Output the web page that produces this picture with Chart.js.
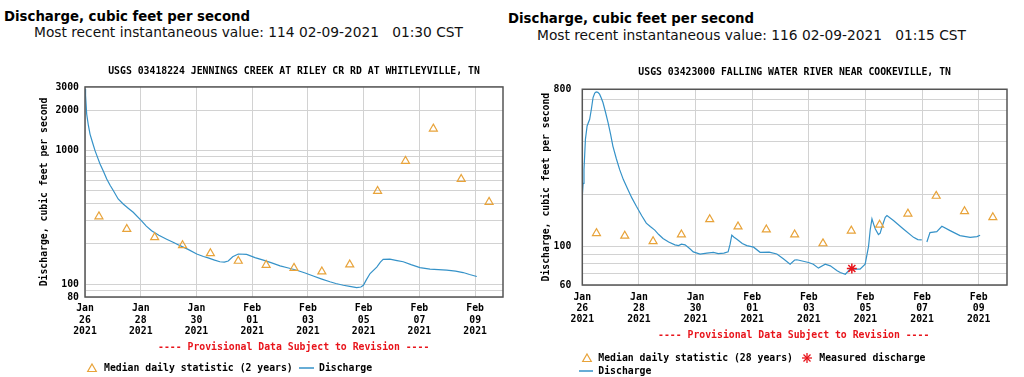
<!DOCTYPE html>
<html><head><meta charset="utf-8">
<script src="https://cdn.jsdelivr.net/npm/chart.js@4.4.1/dist/chart.umd.min.js"></script>
<style>
html,body{margin:0;padding:0;background:#fff;width:1024px;height:377px;overflow:hidden;position:relative}
.t{position:absolute;white-space:pre;transform-origin:0 50%;color:#000}
.hb{font:bold 13.5px "DejaVu Sans";line-height:16px}
.hr{font:14px "DejaVu Sans";line-height:16px;color:#111}
.m{font:bold 9.8px "DejaVu Sans Mono";line-height:12px}
.prov{color:#e8141b}
canvas{position:absolute}
svg{position:absolute;overflow:visible}
</style></head><body>
<div class="t hb" data-w="246" style="left:4px;top:8px">Discharge, cubic feet per second</div>
<div class="t hr" data-w="429" style="left:34px;top:24px">Most recent instantaneous value: 114 02-09-2021   01:30 CST</div>
<div class="t hb" data-w="246" style="left:508px;top:10px">Discharge, cubic feet per second</div>
<div class="t hr" data-w="429" style="left:537px;top:26.7px">Most recent instantaneous value: 116 02-09-2021   01:15 CST</div>

<canvas id="c1" width="512" height="290" style="left:0;top:57px"></canvas>
<canvas id="c2" width="512" height="290" style="left:512px;top:59px"></canvas>

<div class="t m prov" style="left:158px;top:340.5px">---- Provisional Data Subject to Revision ----</div>
<div class="t m prov" style="left:658px;top:328.5px">---- Provisional Data Subject to Revision ----</div>

<svg width="10" height="10" style="left:87px;top:363.2px"><polygon points="5,1 9.3,8.5 0.7,8.5" fill="none" stroke="#e8a33a" stroke-width="1.2"/></svg>
<div class="t m" style="left:104px;top:362.2px">Median daily statistic (2 years)</div>
<svg width="16" height="4" style="left:299px;top:366.2px"><line x1="0" y1="2" x2="15" y2="2" stroke="#3592c8" stroke-width="1.5"/></svg>
<div class="t m" style="left:319px;top:362.2px">Discharge</div>

<svg width="10" height="10" style="left:581.7px;top:352.8px"><polygon points="5,1 9.3,8.5 0.7,8.5" fill="none" stroke="#e8a33a" stroke-width="1.2"/></svg>
<div class="t m" style="left:598.3px;top:351.8px">Median daily statistic (28 years)</div>
<svg width="12" height="12" style="left:800.7px;top:351.8px"><g stroke="#e8141b" stroke-width="1.3"><line x1="6" y1="1" x2="6" y2="11"/><line x1="1" y1="6" x2="11" y2="6"/><line x1="2.5" y1="2.5" x2="9.5" y2="9.5"/><line x1="9.5" y1="2.5" x2="2.5" y2="9.5"/></g></svg>
<div class="t m" style="left:819.3px;top:351.8px">Measured discharge</div>
<svg width="16" height="4" style="left:579px;top:368.5px"><line x1="0" y1="2" x2="14" y2="2" stroke="#3592c8" stroke-width="1.5"/></svg>
<div class="t m" style="left:598.3px;top:364.5px">Discharge</div>

<script>
// ---- data (days since Jan 26 2021 00:00) ----
const xTickValues = [0, 2, 4, 6, 8, 10, 12, 14];
const xTickLabels = [
  ["Jan", "26", "2021"], ["Jan", "28", "2021"], ["Jan", "30", "2021"], ["Feb", "01", "2021"],
  ["Feb", "03", "2021"], ["Feb", "05", "2021"], ["Feb", "07", "2021"], ["Feb", "09", "2021"]
];
const leftYTickLabels = [80, 100, 1000, 2000, 3000];
const leftGridValues = [80, 90, 100, 200, 300, 400, 500, 600, 700, 800, 900, 1000, 2000, 3000];
const rightYTickLabels = [60, 100, 800];
const rightGridValues = [60, 70, 80, 90, 100, 200, 300, 400, 500, 600, 700, 800];

const medianDays = [0.5, 1.5, 2.5, 3.5, 4.5, 5.5, 6.5, 7.5, 8.5, 9.5, 10.5, 11.5, 12.5, 13.5, 14.5];
const leftMedian = [321, 258, 224, 195, 170, 149, 139, 132, 124, 140, 498, 836, 1459, 612, 412];
const rightMedian = [119, 115, 107, 117, 143, 130, 125, 117, 104, 123, 133, 154, 195, 159, 147];

const leftTimes = [0, 0.02, 0.06, 0.12, 0.18, 0.27, 0.36, 0.45, 0.54, 0.66, 0.78, 0.9, 1.02, 1.19, 1.37, 1.55, 1.73, 2.03, 2.2, 2.39, 2.65, 2.93, 3.2, 3.41, 3.7, 4.01, 4.25, 4.42, 4.65, 4.84, 5.0, 5.14, 5.3, 5.5, 5.8, 6.1, 6.4, 6.7, 7.0, 7.3, 7.6, 7.9, 8.19, 8.5, 8.79, 9.0, 9.27, 9.5, 9.75, 9.9, 9.99, 10.1, 10.23, 10.47, 10.6, 10.7, 10.94, 11.2, 11.42, 11.7, 12.02, 12.38, 12.98, 13.3, 13.57, 13.8, 14.06];
const leftFlow = [2900, 2600, 1880, 1550, 1330, 1150, 1000, 890, 794, 700, 612, 550, 500, 434, 398, 370, 345, 298, 272, 251, 232, 217, 204, 194, 182, 168, 161, 157, 151, 147, 146, 149, 160, 168, 167, 158, 151, 144, 137, 132, 127, 121, 115, 109, 104, 101, 98, 96, 94, 95, 98, 108, 120, 134, 146, 153, 154, 150, 147, 140, 133, 129.5, 127, 125, 122, 118, 114];

const rightTimes = [0, 0.03, 0.06, 0.11, 0.17, 0.26, 0.32, 0.38, 0.44, 0.49, 0.55, 0.61, 0.67, 0.73, 0.82, 0.91, 1.0, 1.08, 1.2, 1.32, 1.45, 1.61, 1.75, 1.91, 2.1, 2.26, 2.4, 2.56, 2.7, 2.85, 3.05, 3.27, 3.4, 3.5, 3.63, 3.8, 3.92, 4.16, 4.4, 4.63, 4.8, 5.0, 5.15, 5.22, 5.28, 5.36, 5.46, 5.65, 5.81, 6.05, 6.28, 6.6, 6.87, 7.1, 7.34, 7.5, 7.58, 7.99, 8.16, 8.34, 8.58, 8.76, 9.0, 9.11, 9.29, 9.46, 9.81, 9.99, 10.11, 10.17, 10.23, 10.29, 10.35, 10.46, 10.52, 10.58, 10.7, 10.76, 10.99, 11.34, 11.7, 11.85, 11.99, 12.08, 12.17, 12.28, 12.52, 12.7, 12.99, 13.34, 13.7, 13.94, 14.05];
const rightFlow = [195, 230, 276, 412, 492, 538, 614, 717, 760, 773, 768, 750, 712, 671, 590, 514, 440, 377, 320, 276, 242, 212, 190, 170, 150, 136, 130, 124, 117, 111, 106, 102, 101, 103, 102, 97, 93, 90.4, 91.5, 92.3, 91, 91.5, 93, 103, 116, 113, 110, 104, 101, 99, 92.5, 92.8, 90.4, 85, 79, 83.5, 83.8, 80.8, 79, 75, 79, 77.3, 72.5, 70.8, 69.2, 74, 74, 79, 100, 125, 144, 134, 126, 117, 119, 128.8, 147, 150.5, 140.8, 126, 112.7, 109.5, 108.9, null, 106, 120, 121.6, 130.5, 123.2, 115.3, 112.7, 113.8, 116];

const measuredDays = [9.52];
const measuredFlow = [74.6];

// ---- styling ----
const FONT = { family: "DejaVu Sans Mono", size: 9.8, weight: "bold" };
const LINE = "#3592c8", TRI = "#e8a33a", RED = "#e8141b", GRID = "#d2d2d2";
Chart.defaults.color = "#000";
Chart.defaults.font.family = FONT.family;

const frame = { id: "frame", afterDraw(c) {
  const a = c.chartArea, ctx = c.ctx;
  ctx.save(); ctx.strokeStyle = "#555"; ctx.lineWidth = 1.5;
  ctx.strokeRect(a.left, a.top, a.right - a.left, a.bottom - a.top); ctx.restore();
}};

function pts(xs, ys) { return xs.map((x, i) => ({ x: x, y: ys[i] })); }

function makeChart(id, o) {
  const datasets = [
    { label: "Discharge", data: pts(o.times, o.flow), borderColor: LINE, borderWidth: 1.2, pointRadius: 0, tension: 0, spanGaps: false, order: 2 },
    { label: o.medLabel, data: pts(medianDays, o.median), showLine: false, pointStyle: "triangle", pointRadius: 4.6, pointBorderColor: TRI, pointBackgroundColor: "rgba(0,0,0,0)", pointBorderWidth: 1.2, order: 1 }
  ];
  if (o.measured) datasets.push({ label: "Measured discharge", data: pts(measuredDays, measuredFlow), showLine: false, pointStyle: "star", pointRadius: 5, pointBorderColor: RED, pointBorderWidth: 1.5, order: 0 });
  return new Chart(document.getElementById(id), {
    type: "line",
    data: { datasets },
    plugins: [frame],
    options: {
      responsive: false, animation: false, events: [],
      layout: { padding: { left: 0, right: o.padRight, top: 0, bottom: o.padBottom } },
      plugins: {
        legend: { display: false }, tooltip: { enabled: false },
        title: { display: true, fullSize: false, text: o.title, color: "#000",
          font: Object.assign({ lineHeight: 1.2 }, FONT), padding: { top: o.titleTop, bottom: o.titleBottom } }
      },
      scales: {
        x: { type: "linear", min: 0, max: 15,
          afterBuildTicks: s => { s.ticks = xTickValues.map(v => ({ value: v })); },
          afterFit: s => { s.height = 45; },
          grid: { color: GRID, drawTicks: false }, border: { display: false },
          ticks: { autoSkip: false, maxRotation: 0, padding: o.xPad, color: "#000",
            font: Object.assign({ lineHeight: o.xLH }, FONT), callback: (v, i) => xTickLabels[i] } },
        y: { type: "logarithmic", min: o.ymin, max: o.ymax,
          afterBuildTicks: s => { s.ticks = o.gridVals.map(v => ({ value: v })); },
          afterFit: s => { s.width = o.yWidth; },
          grid: { color: GRID, drawTicks: false }, border: { display: false },
          ticks: { autoSkip: false, padding: o.yPad, color: "#000", font: FONT,
            callback: v => o.yLabels.includes(v) ? String(v) : "" },
          title: { display: true, text: "Discharge, cubic feet per second", color: "#000",
            font: Object.assign({ lineHeight: 1.2 }, FONT), padding: { top: o.yTitlePad, bottom: 0 } } }
      }
    }
  });
}

makeChart("c1", { times: leftTimes, flow: leftFlow, median: leftMedian, medLabel: "Median daily statistic (2 years)",
  title: "USGS 03418224 JENNINGS CREEK AT RILEY CR RD AT WHITLEYVILLE, TN",
  ymin: 80, ymax: 3000, gridVals: leftGridValues, yLabels: leftYTickLabels,
  padRight: 9, padBottom: 5, titleTop: 8.1, titleBottom: 10.1, yWidth: 85, yPad: 6, yTitlePad: 39, xPad: 6, xLH: 1.17 });

makeChart("c2", { times: rightTimes, flow: rightFlow, median: rightMedian, medLabel: "Median daily statistic (28 years)", measured: true,
  title: "USGS 03423000 FALLING WATER RIVER NEAR COOKEVILLE, TN",
  ymin: 60, ymax: 800, gridVals: rightGridValues, yLabels: rightYTickLabels,
  padRight: 17, padBottom: 19, titleTop: 7.1, titleBottom: 11.4, yWidth: 70.3, yPad: 11, yTitlePad: 29, xPad: 7, xLH: 1.14 });

document.querySelectorAll("[data-w]").forEach(el => {
  const w = el.getBoundingClientRect().width;
  el.style.transform = "scaleX(" + (el.dataset.w / w) + ")";
});
</script>
</body></html>
